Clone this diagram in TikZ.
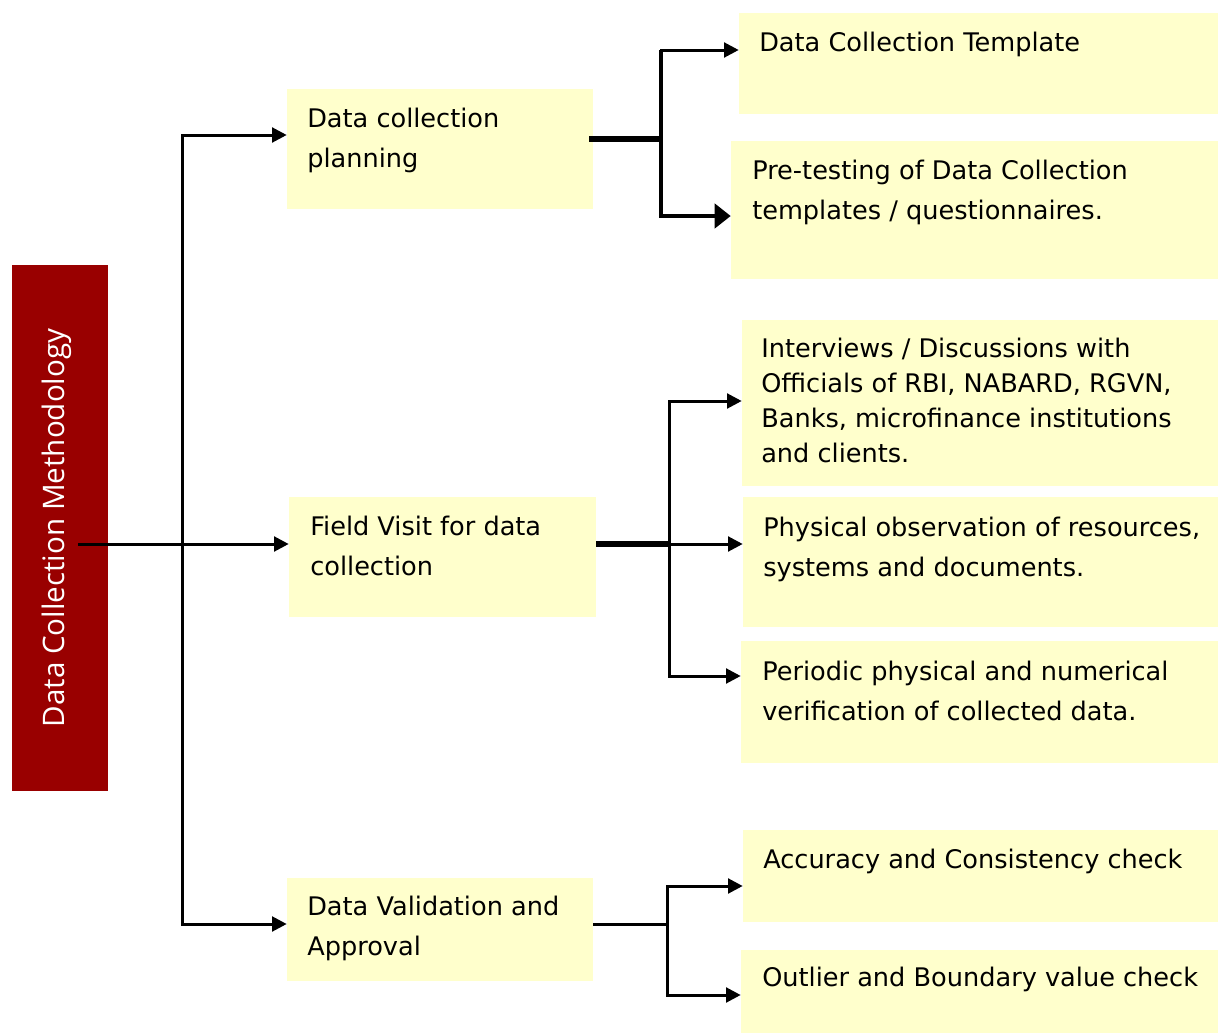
\documentclass[tikz,border=0pt]{standalone}
\usepackage{fontspec}
\setmainfont{DejaVu Sans}
\newfontfamily\titlefont{Open Sans}
\usetikzlibrary{arrows.meta,fit}
\definecolor{boxfill}{HTML}{FFFFCC}
\definecolor{titlered}{HTML}{990000}
\begin{document}
\begin{tikzpicture}[x=0.75pt,y=-0.75pt,
  box/.style={fill=boxfill,inner sep=0pt,draw=none},
  txt/.style={anchor=base west,align=left,inner sep=0pt,font=\fontsize{19.2}{30}\selectfont},
  txtb/.style={anchor=base west,align=left,inner sep=0pt,font=\fontsize{19.2}{26.25}\selectfont},
  conn/.style={line width=2.25pt},
  thickconn/.style={line width=5pt},
  arr/.style={line width=2.25pt,-{Triangle[length=11pt,width=11pt]}},
  bigarr/.style={line width=3pt,-{Triangle[length=12pt,width=18pt]}}]
\useasboundingbox (0,0) rectangle (1218,1035);
% boxes
\node[fill=titlered,inner sep=0pt,fit={(12,265) (108,791)}] (title) {};
\node[box,fit={(287,89) (593,209)}] (plan) {};
\node[box,fit={(289,497) (596,617)}] (field) {};
\node[box,fit={(287,878) (593,981)}] (valid) {};
\node[box,fit={(739,13) (1218,114)}] (tmpl) {};
\node[box,fit={(731,141) (1218,279)}] (pret) {};
\node[box,fit={(742,320) (1218,486)}] (interv) {};
\node[box,fit={(743,497) (1218,627)}] (phys) {};
\node[box,fit={(741,641) (1218,763)}] (period) {};
\node[box,fit={(743,830) (1218,922)}] (acc) {};
\node[box,fit={(741,950) (1218,1033)}] (outl) {};
% texts (base anchor = baseline of last line)
\node[rotate=90,text=white,inner sep=0pt,font=\titlefont\fontsize{22.2}{26}\selectfont] (titlet) at (57,528) {Data Collection Methodology};
\node[txt] (plant) at (307,167) {Data collection\\planning};
\node[txt] (fieldt) at (310,575) {Field Visit for data\\collection};
\node[txt] (validt) at (307,955) {Data Validation and\\Approval};
\node[txt] (tmplt) at (759,51) {Data Collection Template};
\node[txt] (prett) at (752,219) {Pre-testing of Data Collection\\templates / questionnaires.};
\node[txtb] (intervt) at (761,462) {Interviews / Discussions with\\Officials of RBI, NABARD, RGVN,\\Banks, microfinance institutions\\and clients.};
\node[txt] (physt) at (763,576) {Physical observation of resources,\\systems and documents.};
\node[txt] (periodt) at (762,720) {Periodic physical and numerical\\verification of collected data.};
\node[txt] (acct) at (763,868) {Accuracy and Consistency check};
\node[txt] (outlt) at (762,986) {Outlier and Boundary value check};
% connector points
\coordinate (s0) at (78,544);
\coordinate (t1) at (182,135);
\coordinate (t3) at (182,924);
\coordinate (p0) at (589,139);
\coordinate (pj) at (661,139);
\coordinate (pa) at (661,50);
\coordinate (pb) at (661,216);
\coordinate (f0) at (596,544);
\coordinate (fj) at (669,544);
\coordinate (fa) at (669,401);
\coordinate (fb) at (669,676);
\coordinate (v0) at (593,924);
\coordinate (vj) at (667,924);
\coordinate (va) at (667,886);
\coordinate (vb) at (667,995);
% main trunk
\draw[arr] (s0) -- (field.west |- s0);
\draw[arr] (t3) -- (t1) -- (plan.west |- t1);
\draw[arr] (t1) -- (t3) -- (valid.west |- t3);
% planning
\draw[thickconn] (p0) -- (pj);
\draw[arr] (pb) -- (pa) -- (tmpl.west |- pa);
\draw[bigarr] (pa) -- (pb) -- (pret.west |- pb);
% field
\draw[thickconn] (f0) -- (fj);
\draw[arr] (fb) -- (fa) -- (interv.west |- fa);
\draw[arr] (fj) -- (phys.west |- fj);
\draw[arr] (fa) -- (fb) -- (period.west |- fb);
% validation
\draw[conn] (v0) -- (vj);
\draw[arr] (vb) -- (va) -- (acc.west |- va);
\draw[arr] (va) -- (vb) -- (outl.west |- vb);
\end{tikzpicture}
\end{document}
